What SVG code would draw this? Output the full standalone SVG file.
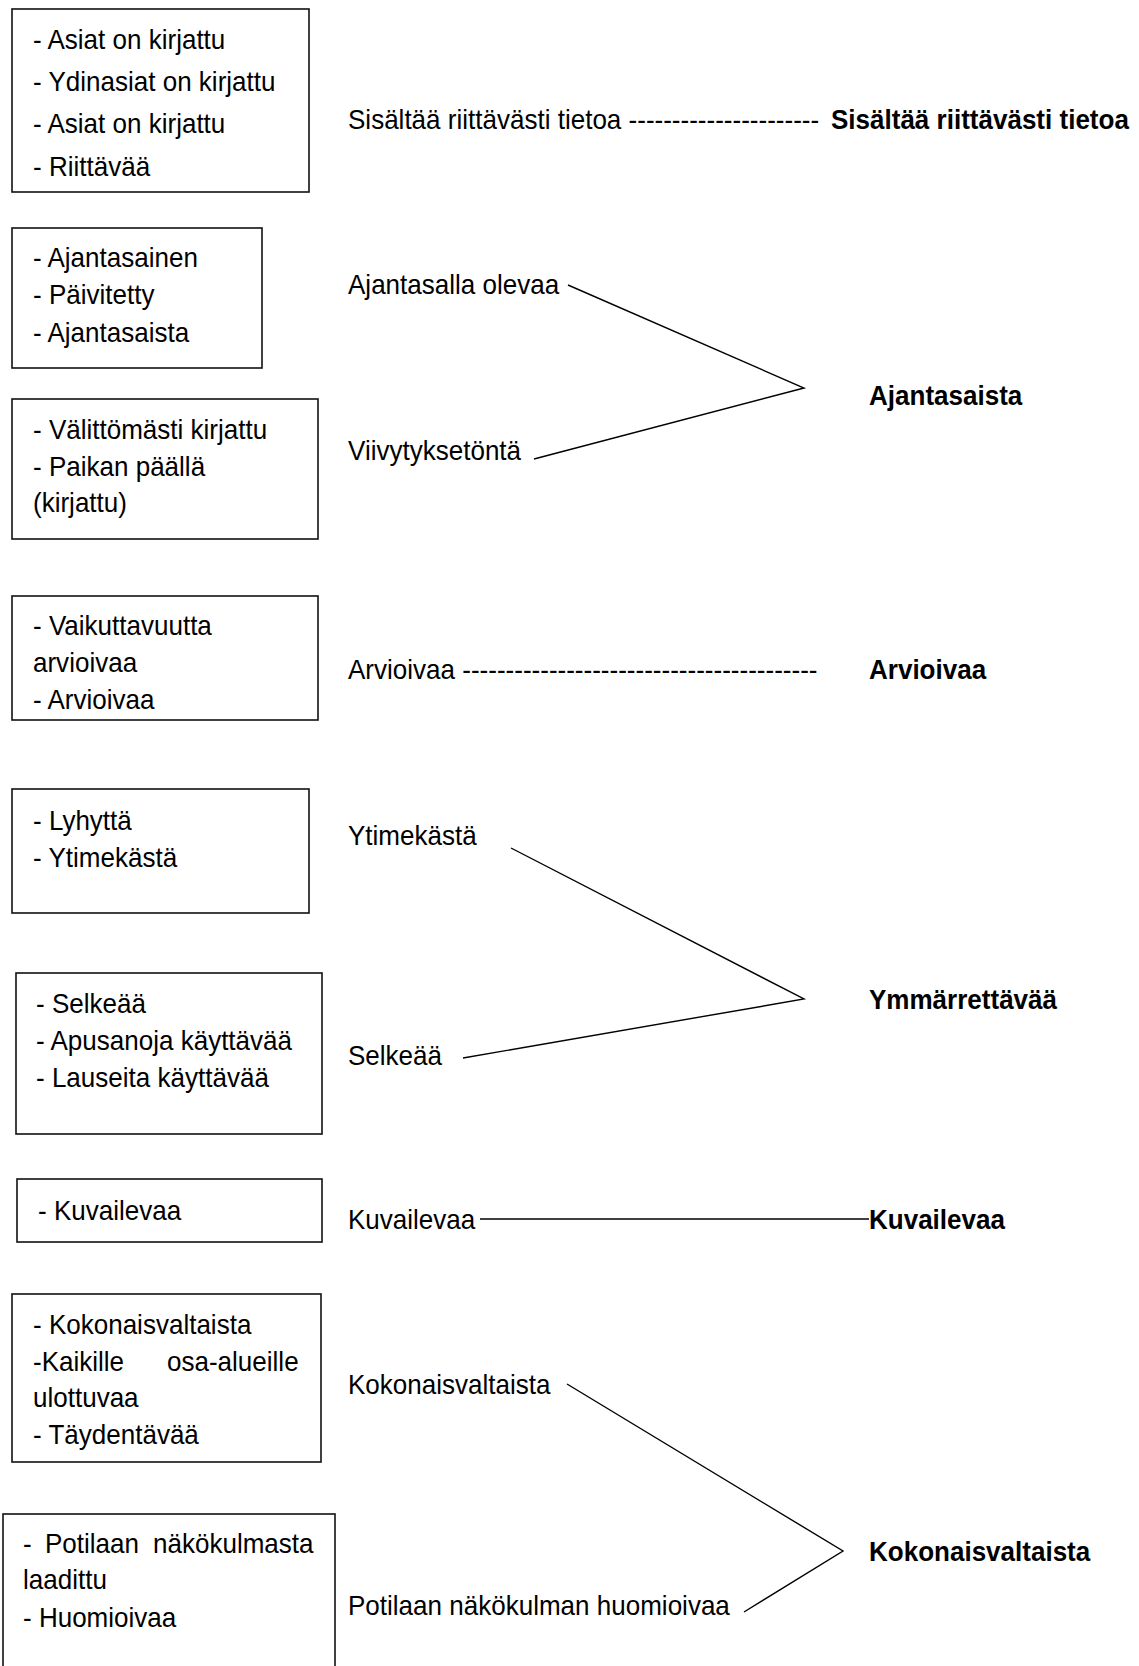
<svg xmlns="http://www.w3.org/2000/svg" width="1139" height="1666" viewBox="0 0 1139 1666">
<style>
  .box { fill: #fff; stroke: #111; stroke-width: 1.6; }
  .t { font-family: "Liberation Sans", Arial, sans-serif; font-size: 28px; fill: #000; }
  .b { font-family: "Liberation Sans", Arial, sans-serif; font-size: 28px; font-weight: bold; fill: #000; }
  .ln { stroke: #000; stroke-width: 1.4; fill: none; }
</style>
<rect width="1139" height="1666" fill="#fff"/>

<g id="box1">
  <rect class="box" x="12" y="9" width="297" height="183"/>
  <g transform="scale(0.93 1)">
    <text class="t" x="35.48" y="49">- Asiat on kirjattu</text>
    <text class="t" x="35.48" y="91">- Ydinasiat on kirjattu</text>
    <text class="t" x="35.48" y="133">- Asiat on kirjattu</text>
    <text class="t" x="35.48" y="176">- Riittävää</text>
  </g>
</g>
<g id="box2">
  <rect class="box" x="12" y="228" width="250" height="140"/>
  <g transform="scale(0.93 1)">
    <text class="t" x="35.48" y="267">- Ajantasainen</text>
    <text class="t" x="35.48" y="304">- Päivitetty</text>
    <text class="t" x="35.48" y="342">- Ajantasaista</text>
  </g>
</g>
<g id="box3">
  <rect class="box" x="12" y="399" width="306" height="140"/>
  <g transform="scale(0.93 1)">
    <text class="t" x="35.48" y="439">- Välittömästi kirjattu</text>
    <text class="t" x="35.48" y="476">- Paikan päällä</text>
    <text class="t" x="35.48" y="512">(kirjattu)</text>
  </g>
</g>
<g id="box4">
  <rect class="box" x="12" y="596" width="306" height="124"/>
  <g transform="scale(0.93 1)">
    <text class="t" x="35.48" y="635">- Vaikuttavuutta</text>
    <text class="t" x="35.48" y="672">arvioivaa</text>
    <text class="t" x="35.48" y="709">- Arvioivaa</text>
  </g>
</g>
<g id="box5">
  <rect class="box" x="12" y="789" width="297" height="124"/>
  <g transform="scale(0.93 1)">
    <text class="t" x="35.48" y="830">- Lyhyttä</text>
    <text class="t" x="35.48" y="867">- Ytimekästä</text>
  </g>
</g>
<g id="box6">
  <rect class="box" x="16" y="973" width="306" height="161"/>
  <g transform="scale(0.93 1)">
    <text class="t" x="38.71" y="1013">- Selkeää</text>
    <text class="t" x="38.71" y="1050">- Apusanoja käyttävää</text>
    <text class="t" x="38.71" y="1087">- Lauseita käyttävää</text>
  </g>
</g>
<g id="box7">
  <rect class="box" x="17" y="1179" width="305" height="63"/>
  <g transform="scale(0.93 1)">
    <text class="t" x="40.86" y="1220">- Kuvailevaa</text>
  </g>
</g>
<g id="box8">
  <rect class="box" x="12" y="1294" width="309" height="168"/>
  <g transform="scale(0.93 1)">
    <text class="t" x="35.48" y="1334">- Kokonaisvaltaista</text>
    <text class="t" y="1371"><tspan x="35.48">-Kaikille</tspan><tspan x="179.57">osa-alueille</tspan></text>
    <text class="t" x="35.48" y="1407">ulottuvaa</text>
    <text class="t" x="35.48" y="1444">- Täydentävää</text>
  </g>
</g>
<g id="box9">
  <rect class="box" x="3" y="1514" width="332" height="180"/>
  <g transform="scale(0.93 1)">
    <text class="t" y="1553"><tspan x="24.73">-</tspan><tspan x="48.39">Potilaan</tspan><tspan x="164.52">näkökulmasta</tspan></text>
    <text class="t" x="24.73" y="1589">laadittu</text>
    <text class="t" x="24.73" y="1627">- Huomioivaa</text>
  </g>
</g>

<g id="labels" transform="scale(0.93 1)">
  <text class="t" x="374.19" y="129">Sisältää riittävästi tietoa ----------------------</text>
  <text class="b" x="893.55" y="129">Sisältää riittävästi tietoa</text>
  <text class="t" x="374.19" y="294">Ajantasalla olevaa</text>
  <text class="t" x="374.19" y="460">Viivytyksetöntä</text>
  <text class="b" x="934.41" y="405">Ajantasaista</text>
  <text class="t" x="374.19" y="679">Arvioivaa -----------------------------------------</text>
  <text class="b" x="934.41" y="679">Arvioivaa</text>
  <text class="t" x="374.19" y="845">Ytimekästä</text>
  <text class="t" x="374.19" y="1065">Selkeää</text>
  <text class="b" x="934.41" y="1009">Ymmärrettävää</text>
  <text class="t" x="374.19" y="1229">Kuvailevaa</text>
  <text class="b" x="934.41" y="1229">Kuvailevaa</text>
  <text class="t" x="374.19" y="1394">Kokonaisvaltaista</text>
  <text class="t" x="374.19" y="1615">Potilaan näkökulman huomioivaa</text>
  <text class="b" x="934.41" y="1561">Kokonaisvaltaista</text>
</g>

<g id="connectors">
  <polyline class="ln" points="568,285 804,388 534,459"/>
  <polyline class="ln" points="511,848 804,999 463,1058"/>
  <line class="ln" x1="480" y1="1219" x2="869" y2="1219"/>
  <polyline class="ln" points="567,1384 843,1551 744,1612"/>
</g>
</svg>
